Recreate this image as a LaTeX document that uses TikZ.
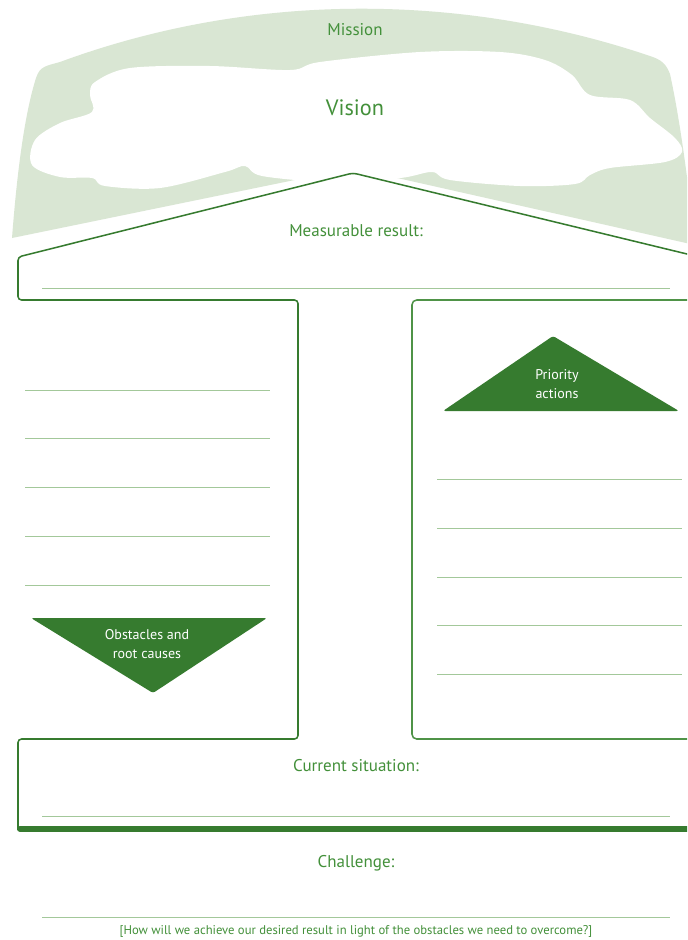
\documentclass[tikz,border=0pt]{standalone}
\usepackage{fontspec}
\setmainfont{PT Sans}
\usetikzlibrary{positioning}
\definecolor{leafgreen}{HTML}{367B2F}
\definecolor{linegreen}{HTML}{4F9347}
\definecolor{rulegreen}{HTML}{A3C89A}
\definecolor{mistgreen}{HTML}{D9E6D3}
\definecolor{textgreen}{HTML}{43903A}

\begin{document}
\begin{tikzpicture}[
    x=0.03cm, y=-0.03cm,
    outline/.style={draw=linegreen, line width=1.3pt, rounded corners=4pt},
    roofline/.style={draw=leafgreen, line width=1.3pt, rounded corners=3pt},
    rule/.style={draw=rulegreen, line width=0.8pt},
    heading/.style={text=textgreen, font=\fontsize{14.5}{17}\selectfont, inner sep=0pt},
    flag/.style={fill=leafgreen, rounded corners=2pt},
    flagtext/.style={text=white, font=\fontsize{12}{16.5}\selectfont, align=center, inner sep=0pt}
]
    \useasboundingbox (0,0) rectangle (687,940);
    \clip (0,0) rectangle (687,940);
    \fill[white] (0,0) rectangle (687,940);

    % mission band
    \fill[mistgreen] (12,238) .. controls (18,160) and (26,110) .. (36,78)
        .. controls (40,66) and (46,66) .. (60,62)
        .. controls (250,-8) and (460,-8) .. (650,56)
        .. controls (662,60) and (666,64) .. (670,74)
        .. controls (680,120) and (688,180) .. (695,245)
        -- (353,168) -- cycle;

    % vision cloud
    \fill[white] plot[smooth cycle, tension=0.55] coordinates {
        (95,82) (130,68) (210,66) (290,70) (320,62) (420,52) (500,52)
        (545,60) (572,75) (590,95) (630,100) (650,118) (675,138) (682,152)
        (665,162) (610,168) (590,175) (575,184) (520,186) (450,180)
        (432,172) (400,178) (330,182) (262,176) (245,166) (225,172)
        (160,188) (105,186) (92,178) (60,177) (32,165) (35,140)
        (60,123) (92,112) (90,95)};

    % house
    \fill[white] (18,300) -- (18,257) -- (353,173) -- (720,262) -- (720,300) -- cycle;
    \draw[roofline] (720,262) -- (353,173) -- (18,257) -- (18,300) -- (298,300)
        -- (298,739) -- (18,739) -- (18,830);
    \draw[outline] (720,300) -- (412,300) -- (412,739) -- (720,739);
    \draw[leafgreen, line width=5pt, line cap=round] (20,829) -- (720,829);

    % writing lines
    \draw[rule] (42,288) -- (670,288);
    \foreach \y in {390,438,487,536,585}
        \draw[rule] (25,\y) -- (270,\y);
    \foreach \y in {479,528,577,625,674}
        \draw[rule] (437,\y) -- (682,\y);
    \draw[rule] (42,816) -- (670,816);
    \draw[rule] (42,917) -- (670,917);

    % flags
    \fill[flag] (553,336) -- (679,411) -- (443,411) -- cycle;
    \node[flagtext] (priority) at (557,384) {Priority\\actions};
    \fill[flag] (31,618) -- (267,618) -- (153,693) -- cycle;
    \node[flagtext] (obstacles) at (147,644) {Obstacles and\\root causes};

    % labels
    \node[heading] (mission) at (355,30) {Mission};
    \node[heading, font=\fontsize{19}{22}\selectfont] (vision) at (355,108) {Vision};
    \node[heading] (result) at (356,231) {Measurable result:};
    \node[heading] (current) at (356,766) {Current situation:};
    \node[heading] (challenge) at (356,863) {Challenge:};
    \node[heading, font=\fontsize{10.8}{13}\selectfont] (question) at (356,931)
        {[How will we achieve our desired result in light of the obstacles we need to overcome?]};
\end{tikzpicture}
\end{document}
